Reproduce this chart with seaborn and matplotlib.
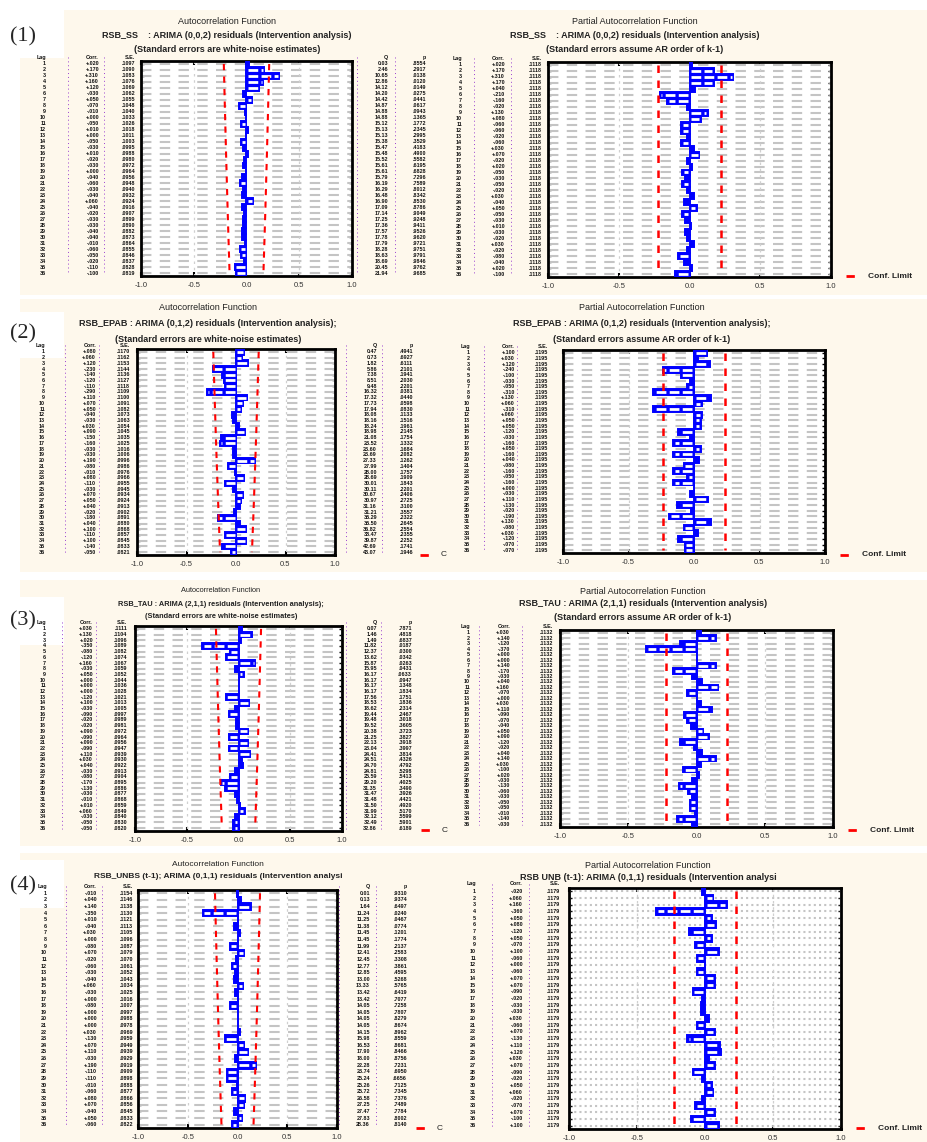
import math
import numpy as np
import pandas as pd
import seaborn as sns
import matplotlib.pyplot as plt
from matplotlib.lines import Line2D
from matplotlib.patches import Rectangle
from matplotlib.transforms import blended_transform_factory

# ---- data (36 lags per panel) ----
lags = list(range(1, 37))

acf_ss = [0.02, 0.17, 0.31, 0.16, 0.12, -0.03, 0.05, -0.07, -0.01, 0.00, -0.05, 0.01,
          0.00, -0.05, -0.03, 0.01, -0.02, -0.03, 0.00, -0.04, -0.06, -0.03, -0.04, 0.06,
          -0.04, -0.02, -0.03, -0.03, -0.04, -0.04, -0.01, -0.06, -0.05, -0.02, -0.11, -0.10]
pacf_ss = [0.02, 0.17, 0.31, 0.17, 0.04, -0.21, -0.16, -0.02, 0.13, 0.08, -0.06, -0.06,
           -0.02, -0.06, 0.03, 0.07, -0.02, 0.02, -0.05, -0.03, -0.05, -0.02, 0.03, -0.04,
           0.05, -0.05, -0.03, 0.01, -0.03, -0.02, 0.03, -0.02, -0.08, -0.04, 0.02, -0.10]

acf_epab = [0.08, 0.06, 0.12, -0.23, -0.14, -0.12, -0.11, -0.29, 0.11, 0.07, 0.05, -0.04,
            -0.03, 0.03, 0.09, -0.15, -0.16, -0.03, -0.03, 0.19, -0.08, -0.01, 0.08, -0.11,
            -0.03, 0.07, 0.05, 0.04, -0.02, -0.18, 0.04, 0.10, -0.11, 0.10, -0.14, -0.05]
pacf_epab = [0.10, 0.03, 0.12, -0.24, -0.10, -0.03, -0.05, -0.31, 0.13, 0.06, -0.31, 0.06,
             0.05, 0.05, -0.12, -0.03, -0.16, 0.05, -0.16, 0.04, -0.08, -0.16, -0.05, -0.16,
             0.00, -0.03, 0.11, -0.13, -0.02, -0.19, 0.13, -0.08, 0.03, -0.12, -0.07, -0.07]

acf_tau = [0.03, 0.13, 0.02, -0.35, -0.08, -0.12, 0.16, -0.03, 0.05, 0.00, 0.00, 0.00,
           -0.12, 0.10, -0.03, -0.09, -0.02, -0.02, 0.09, -0.09, 0.09, -0.09, 0.11, 0.03,
           0.04, -0.03, -0.08, -0.17, -0.13, -0.03, -0.01, 0.01, 0.06, -0.03, -0.05, -0.05]
pacf_tau = [0.03, 0.14, -0.12, -0.37, 0.00, 0.00, 0.14, -0.17, -0.03, 0.04, 0.16, -0.07,
            0.00, 0.03, 0.11, -0.09, -0.07, -0.04, 0.05, 0.09, -0.12, -0.02, 0.04, 0.14,
            0.03, -0.10, 0.02, -0.03, -0.13, -0.06, -0.03, -0.05, -0.05, -0.01, -0.14, -0.03]

acf_unbs = [-0.01, 0.04, 0.14, -0.35, 0.01, -0.04, 0.03, 0.00, -0.08, 0.07, -0.02, -0.06,
            -0.03, -0.04, 0.06, -0.03, 0.00, -0.08, 0.00, 0.00, 0.00, 0.03, -0.13, 0.07,
            0.11, -0.03, 0.19, -0.11, -0.11, -0.01, -0.06, 0.08, 0.07, -0.04, 0.05, -0.06]
pacf_unbs = [-0.02, 0.06, 0.16, -0.36, 0.05, 0.08, -0.12, 0.05, -0.07, 0.10, -0.06, 0.00,
             -0.06, 0.07, 0.07, -0.09, -0.02, -0.03, -0.03, 0.03, -0.06, 0.07, -0.13, 0.11,
             0.12, 0.03, 0.07, -0.09, -0.02, 0.05, 0.06, -0.02, -0.07, 0.07, -0.10, 0.10]

# S.E. columns (white-noise estimates shrink with lag; PACF S.E. is constant)
se_acf_ss = [.1097, .1090, .1083, .1076, .1069, .1062, .1055, .1048, .1040, .1033, .1026, .1018,
             .1011, .1003, .0995, .0988, .0980, .0972, .0964, .0956, .0948, .0940, .0932, .0924,
             .0916, .0907, .0899, .0890, .0882, .0873, .0864, .0855, .0846, .0837, .0828, .0819]
se_acf_epab = [.1170, .1162, .1153, .1144, .1136, .1127, .1118, .1109, .1100, .1091, .1082, .1073,
               .1063, .1054, .1045, .1035, .1025, .1016, .1006, .0996, .0986, .0976, .0966, .0955,
               .0945, .0934, .0924, .0913, .0902, .0891, .0880, .0868, .0857, .0845, .0833, .0821]
se_acf_tau = [.1111, .1104, .1096, .1089, .1082, .1074, .1067, .1059, .1052, .1044, .1036, .1028,
              .1021, .1013, .1005, .0997, .0989, .0981, .0972, .0964, .0956, .0947, .0939, .0930,
              .0922, .0913, .0904, .0895, .0886, .0877, .0868, .0859, .0849, .0840, .0830, .0820]
se_acf_unbs = [.1154, .1146, .1138, .1130, .1121, .1113, .1105, .1096, .1087, .1079, .1070, .1061,
               .1052, .1043, .1034, .1025, .1016, .1007, .0997, .0988, .0978, .0969, .0959, .0949,
               .0939, .0929, .0919, .0909, .0898, .0888, .0877, .0866, .0856, .0845, .0833, .0822]
se_pacf = [.1118, .1195, .1132, .1179]
nobs = [80, 70, 78, 72]

acf_titles = [
    ["Autocorrelation Function",
     "RSB_SS    : ARIMA (0,0,2) residuals (Intervention analysis)",
     "(Standard errors are white-noise estimates)"],
    ["Autocorrelation Function",
     "RSB_EPAB : ARIMA (0,1,2) residuals (Intervention analysis);",
     "(Standard errors are white-noise estimates)"],
    ["Autocorrelation Function",
     "RSB_TAU : ARIMA (2,1,1) residuals (Intervention analysis);",
     "(Standard errors are white-noise estimates)"],
    ["Autocorrelation Function",
     "RSB_UNBS (t-1); ARIMA (0,1,1) residuals (Intervention analysi"],
]
pacf_titles = [
    ["Partial Autocorrelation Function",
     "RSB_SS    : ARIMA (0,0,2) residuals (Intervention analysis)",
     "(Standard errors assume AR order of k-1)"],
    ["Partial Autocorrelation Function",
     "RSB_EPAB : ARIMA (0,1,2) residuals (Intervention analysis);",
     "(Standard errors assume AR order of k-1)"],
    ["Partial Autocorrelation Function",
     "RSB_TAU : ARIMA (2,1,1) residuals (Intervention analysis)",
     "(Standard errors assume AR order of k-1)"],
    ["Partial Autocorrelation Function",
     "RSB UNB (t-1): ARIMA (0,1,1) residuals (Intervention analysi"],
]
panel_labels = ["(1)", "(2)", "(3)", "(4)"]
tick_labels = ["-1.0", "-0.5", "0.0", "0.5", "1.0"]

acf_all = [acf_ss, acf_epab, acf_tau, acf_unbs]
pacf_all = [pacf_ss, pacf_epab, pacf_tau, pacf_unbs]
se_acf_all = [se_acf_ss, se_acf_epab, se_acf_tau, se_acf_unbs]

# ---- layout in pixels ----
W, H = 927, 1142
rows = [
    dict(band=(10, 295), box=(10, 58), lab_y=37,
         acf=(141, 61, 352, 276), pacf=(548, 62, 831, 277),
         acf_cols=(46, 99, 135, 388, 426), pacf_cols=(462, 505, 542),
         acf_tx=227, pacf_tx=635, ty=(21, 35, 50), acf_fs=6.5, leg_y=276, acf_leg=None),
    dict(band=(299, 572), box=(312, 358), lab_y=334,
         acf=(137, 349, 335, 555), pacf=(563, 350, 825, 553),
         acf_cols=(45, 96, 130, 377, 413), pacf_cols=(470, 515, 548),
         acf_tx=208, pacf_tx=642, ty=(307, 323, 339), acf_fs=6.5, leg_y=555, acf_leg=420),
    dict(band=(580, 846), box=(597, 645), lab_y=621,
         acf=(135, 626, 342, 831), pacf=(560, 630, 833, 827),
         acf_cols=(46, 93, 127, 377, 412), pacf_cols=(470, 510, 553),
         acf_tx=221, pacf_tx=643, ty=(591, 604, 617), acf_fs=5.3, leg_y=830, acf_leg=421),
    dict(band=(853, 1142), box=(860, 908), lab_y=886,
         acf=(138, 890, 337, 1128), pacf=(569, 888, 841, 1129),
         acf_cols=(47, 97, 133, 370, 407), pacf_cols=(476, 523, 560),
         acf_tx=218, pacf_tx=648, ty=(865, 877), acf_fs=6.0, leg_y=1128, acf_leg=416),
]

CREAM = "#FEF8EC"
BLUE = "#0000FF"
RED = "#FF0000"
GRID = "#C4C4C4"


def fx(x):
    return x / W


def fy(y):
    return 1 - y / H


def rect(b):
    x0, y0, x1, y1 = b
    return [x0 / W, 1 - y1 / H, (x1 - x0) / W, (y1 - y0) / H]


def chi2_sf(x, df):
    if df % 2 == 0:
        term = s = math.exp(-x / 2)
        for i in range(1, df // 2):
            term *= (x / 2) / i
            s += term
        return s
    s = math.erfc(math.sqrt(x / 2))
    term = math.sqrt(2 * x / math.pi) * math.exp(-x / 2)
    for i in range(1, (df + 1) // 2):
        s += term
        term *= x / (2 * i + 1)
    return s


def fmt_corr(c):
    return f"{c:+.3f}".replace("0.", ".")


sns.set_theme(style="white")
plt.rcParams["font.family"] = ["Liberation Sans", "DejaVu Sans"]

fig = plt.figure(figsize=(W / 100, H / 100), dpi=100)
fig.patch.set_facecolor("white")


def draw_panel(box, corr, conf, cols, kind, se_text, n, grid_ls=(0, (5, 4))):
    ax = fig.add_axes(rect(box))
    ax.set_facecolor("white")
    pos = np.arange(len(lags))
    ax.hlines(pos, -1, 1, color=GRID, lw=1.5, linestyles=grid_ls, zorder=1)
    ax.vlines([-0.5, 0.5], -0.5, len(lags) - 0.5, color="#D0D0D0", lw=0.9,
              linestyles=(0, (2, 3)), zorder=1)
    df = pd.DataFrame({"lag": lags, "corr": corr})
    sns.barplot(data=df, x="corr", y="lag", orient="h", color=BLUE,
                edgecolor=BLUE, linewidth=1.4, width=1.0, saturation=1,
                ax=ax, zorder=3)
    # white dashes inside the bars (hollow, patterned look)
    for i, c in enumerate(corr):
        if abs(c) > 0.04:
            ax.plot([0.012 * np.sign(c), c - 0.012 * np.sign(c)], [i, i],
                    color="white", lw=2.0, ls=(0, (3.5, 1.2)),
                    solid_capstyle="butt", zorder=3.5)
    if kind == "acf":
        ax.plot(conf, pos, color=RED, lw=1.5, ls=(0, (3, 3)), zorder=4)
        ax.plot(-conf, pos, color=RED, lw=1.5, ls=(0, (3, 3)), zorder=4)
    else:
        for s in (conf, -conf):
            ax.plot([s, s], [0, len(lags) - 1], color=RED, lw=1.8,
                    ls=(0, (3, 3)), zorder=4)
    ax.set_xlim(-1, 1)
    ax.set_ylim(len(lags) - 0.5, -0.5)
    ax.set_xticks([-1, -0.5, 0, 0.5, 1])
    ax.set_xticklabels(tick_labels, fontsize=5.5, color="#333333")
    ax.set_yticks(pos)
    ax.set_yticklabels([])
    ax.set_xlabel("")
    ax.set_ylabel("")
    ax.tick_params(axis="x", top=True, bottom=True, direction="in",
                   length=3, width=1.5, pad=4, color="black")
    ax.tick_params(axis="y", left=True, right=True, direction="in",
                   length=2.5, width=1.0, color="black")
    for sp in ax.spines.values():
        sp.set_color("black")
        sp.set_linewidth(2)

    # text columns aligned with the bar rows
    tr = blended_transform_factory(fig.transFigure, ax.transData)
    tk = dict(transform=tr, ha="right", va="center", fontsize=3.9,
              weight="bold", color="#111111", clip_on=False)
    heads = ["Lag", "Corr.", "S.E.", "Q", "p"]
    q = 0.0
    for i, c in enumerate(corr):
        k = i + 1
        cells = [str(k), fmt_corr(c), se_text[i]]
        if kind == "acf":
            q += n * (n + 2) * c * c / (n - k)
            p = chi2_sf(q, k)
            cells += [f"{q:.2f}", f"{p:.4f}".lstrip("0")]
        for xr, s in zip(cols, cells):
            ax.text(fx(xr), i, s, **tk)
    for xr, s in zip(cols, heads):
        ax.text(fx(xr), -1.1, s, **tk)
    # purple dotted separators
    for xr in cols[1:]:
        fig.add_artist(Line2D([fx(xr - 31)] * 2, [fy(box[1] - 4), fy(box[3] - 2)],
                              color="#9A3FD0", lw=0.7, ls=(0, (1, 3)), zorder=2))
    return ax


for r, spec in enumerate(rows):
    b0, b1 = spec["band"]
    fig.add_artist(Rectangle((fx(20), fy(b1)), fx(W - 20), (b1 - b0) / H,
                             transform=fig.transFigure, facecolor=CREAM,
                             edgecolor="none", zorder=-10))
    y0, y1 = spec["box"]
    fig.add_artist(Rectangle((0, fy(y1)), fx(64), (y1 - y0) / H,
                             transform=fig.transFigure, facecolor="white",
                             edgecolor="none", zorder=-5))
    fig.text(fx(10), fy(spec["lab_y"]), panel_labels[r], fontsize=16,
             family=["Liberation Serif", "DejaVu Serif"], va="center", ha="left")

    n = nobs[r]
    conf_acf = 1.96 * np.array(se_acf_all[r])
    draw_panel(spec["acf"], acf_all[r], conf_acf, spec["acf_cols"], "acf",
               [f"{s:.4f}"[1:] for s in se_acf_all[r]], n)
    conf_pacf = 1.96 * se_pacf[r]
    draw_panel(spec["pacf"], pacf_all[r], conf_pacf, spec["pacf_cols"], "pacf",
               [f"{se_pacf[r]:.4f}"[1:]] * len(lags), n,
               grid_ls=(0, (1, 1.5)) if r == 3 else (0, (5, 4)))

    for j, line in enumerate(acf_titles[r]):
        fig.text(fx(spec["acf_tx"]), fy(spec["ty"][j]), line, ha="center",
                 va="center", fontsize=spec["acf_fs"],
                 weight="normal" if j == 0 else "bold", color="#222222")
    for j, line in enumerate(pacf_titles[r]):
        fig.text(fx(spec["pacf_tx"]), fy(spec["ty"][j]), line, ha="center",
                 va="center", fontsize=6.5,
                 weight="normal" if j == 0 else "bold", color="#222222")

    ly = fy(spec["leg_y"])
    lx = spec["pacf"][2] + 15
    fig.add_artist(Line2D([fx(lx), fx(lx + 15)], [ly, ly], color=RED, lw=2,
                          ls=(0, (3, 4))))
    fig.text(fx(lx + 22), ly, "Conf. Limit", fontsize=6, va="center",
             weight="bold", color="#222222")
    if spec["acf_leg"]:
        ax0 = spec["acf_leg"]
        fig.add_artist(Line2D([fx(ax0), fx(ax0 + 15)], [ly, ly], color=RED, lw=2,
                              ls=(0, (3, 4))))
        fig.text(fx(ax0 + 21), ly, "C", fontsize=6, va="center", color="#222222")

fig.savefig("out.png", dpi=100)
